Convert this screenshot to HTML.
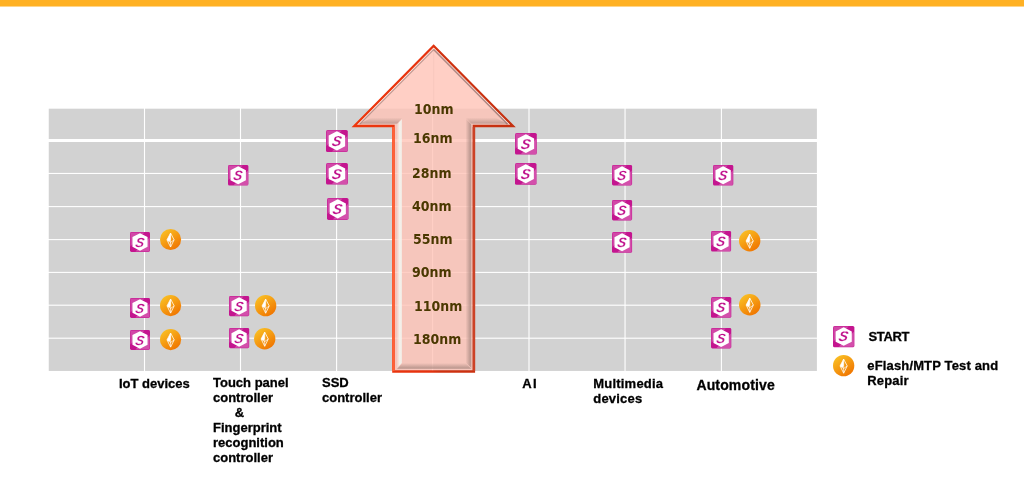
<!DOCTYPE html>
<html lang="en"><head><meta charset="utf-8"><title>Process node coverage</title>
<style>
html,body{margin:0;padding:0;background:#fff}
body{width:1024px;height:484px;position:relative;overflow:hidden;font-family:"Liberation Sans",sans-serif;font-weight:bold;color:#000}
.bar{position:absolute;left:0;top:0;width:1024px;height:7px;background:linear-gradient(#ffb124 0,#ffb124 6px,#ffd58a 6px,#ffd58a 7px)}
.gridsvg{position:absolute;left:0;top:0;display:block}
.ic{position:absolute;display:block;overflow:visible}
.t{position:absolute;font-size:13px;line-height:15px;white-space:pre;margin:0;-webkit-text-stroke:.3px #000}
.nm{position:absolute;font-family:"DejaVu Sans","Liberation Sans",sans-serif;font-size:13.3px;line-height:16px;color:#4a3800;white-space:nowrap;transform:scaleX(.945);transform-origin:0 0}
#arrow{position:absolute;left:340px;top:36px;width:190px;height:345px}
</style></head><body>
<svg width="0" height="0" style="position:absolute"><defs>
<linearGradient id="og" x1="0.2" y1="0.1" x2="0.8" y2="0.95"><stop offset="0" stop-color="#f9bc22"/><stop offset="1" stop-color="#f07400"/></linearGradient>
</defs></svg>
<div class="bar"></div>

<svg class="gridsvg" width="1024" height="484" viewBox="0 0 1024 484">
<rect x="48.75" y="108.7" width="768.15" height="262.25" fill="#d2d2d2"/>
<rect x="143.95" y="108" width="1.1" height="264" fill="#fff"/>
<rect x="239.95" y="108" width="1.1" height="264" fill="#fff"/>
<rect x="336.05" y="108" width="1.1" height="264" fill="#fff"/>
<rect x="432.05" y="108" width="1.1" height="264" fill="#fff"/>
<rect x="528.45" y="108" width="1.1" height="264" fill="#fff"/>
<rect x="624.50" y="108" width="1.1" height="264" fill="#fff"/>
<rect x="720.85" y="108" width="1.1" height="264" fill="#fff"/>
<rect x="48" y="139" width="770" height="3" fill="#fff"/>
<rect x="48" y="172.90" width="770" height="1.1" fill="#fff"/>
<rect x="48" y="206.05" width="770" height="1.1" fill="#fff"/>
<rect x="48" y="239.05" width="770" height="1.1" fill="#fff"/>
<rect x="48" y="271.85" width="770" height="1.1" fill="#fff"/>
<rect x="48" y="304.65" width="770" height="1.1" fill="#fff"/>
<rect x="48" y="337.65" width="770" height="1.1" fill="#fff"/>
</svg>


<svg class="ic" style="left:130px;top:232px;width:20px;height:20px" viewBox="0 0 22 22" preserveAspectRatio="none">
<rect x="0" y="0" width="22" height="22" rx="1.6" fill="#c4158f"/>
<path d="M0.5 0.5H16L0.5 16Z" fill="#ffffff" fill-opacity=".22"/>
<path d="M21.5 21.5H6L21.5 6Z" fill="#ffffff" fill-opacity=".25"/>
<path d="M11 1.3L19.3 5.6V16.2L11 20.5L2.7 16.2V5.6Z" fill="#fff"/>
<text x="12.9" y="16" text-anchor="middle" transform="skewX(-10)" font-family="'Liberation Sans',sans-serif" font-weight="bold" font-style="italic" font-size="14.5" fill="#c0108c" stroke="#fff" stroke-width=".15">S</text>
</svg>
<svg class="ic" style="left:130px;top:297.5px;width:20px;height:20px" viewBox="0 0 22 22" preserveAspectRatio="none">
<rect x="0" y="0" width="22" height="22" rx="1.6" fill="#c4158f"/>
<path d="M0.5 0.5H16L0.5 16Z" fill="#ffffff" fill-opacity=".22"/>
<path d="M21.5 21.5H6L21.5 6Z" fill="#ffffff" fill-opacity=".25"/>
<path d="M11 1.3L19.3 5.6V16.2L11 20.5L2.7 16.2V5.6Z" fill="#fff"/>
<text x="12.9" y="16" text-anchor="middle" transform="skewX(-10)" font-family="'Liberation Sans',sans-serif" font-weight="bold" font-style="italic" font-size="14.5" fill="#c0108c" stroke="#fff" stroke-width=".15">S</text>
</svg>
<svg class="ic" style="left:130px;top:329.7px;width:20px;height:20px" viewBox="0 0 22 22" preserveAspectRatio="none">
<rect x="0" y="0" width="22" height="22" rx="1.6" fill="#c4158f"/>
<path d="M0.5 0.5H16L0.5 16Z" fill="#ffffff" fill-opacity=".22"/>
<path d="M21.5 21.5H6L21.5 6Z" fill="#ffffff" fill-opacity=".25"/>
<path d="M11 1.3L19.3 5.6V16.2L11 20.5L2.7 16.2V5.6Z" fill="#fff"/>
<text x="12.9" y="16" text-anchor="middle" transform="skewX(-10)" font-family="'Liberation Sans',sans-serif" font-weight="bold" font-style="italic" font-size="14.5" fill="#c0108c" stroke="#fff" stroke-width=".15">S</text>
</svg>
<svg class="ic" style="left:227.7px;top:165px;width:20.4px;height:20.6px" viewBox="0 0 22 22" preserveAspectRatio="none">
<rect x="0" y="0" width="22" height="22" rx="1.6" fill="#c4158f"/>
<path d="M0.5 0.5H16L0.5 16Z" fill="#ffffff" fill-opacity=".22"/>
<path d="M21.5 21.5H6L21.5 6Z" fill="#ffffff" fill-opacity=".25"/>
<path d="M11 1.3L19.3 5.6V16.2L11 20.5L2.7 16.2V5.6Z" fill="#fff"/>
<text x="12.9" y="16" text-anchor="middle" transform="skewX(-10)" font-family="'Liberation Sans',sans-serif" font-weight="bold" font-style="italic" font-size="14.5" fill="#c0108c" stroke="#fff" stroke-width=".15">S</text>
</svg>
<svg class="ic" style="left:228.7px;top:295.7px;width:20.2px;height:20.2px" viewBox="0 0 22 22" preserveAspectRatio="none">
<rect x="0" y="0" width="22" height="22" rx="1.6" fill="#c4158f"/>
<path d="M0.5 0.5H16L0.5 16Z" fill="#ffffff" fill-opacity=".22"/>
<path d="M21.5 21.5H6L21.5 6Z" fill="#ffffff" fill-opacity=".25"/>
<path d="M11 1.3L19.3 5.6V16.2L11 20.5L2.7 16.2V5.6Z" fill="#fff"/>
<text x="12.9" y="16" text-anchor="middle" transform="skewX(-10)" font-family="'Liberation Sans',sans-serif" font-weight="bold" font-style="italic" font-size="14.5" fill="#c0108c" stroke="#fff" stroke-width=".15">S</text>
</svg>
<svg class="ic" style="left:228.7px;top:328px;width:20.2px;height:20.2px" viewBox="0 0 22 22" preserveAspectRatio="none">
<rect x="0" y="0" width="22" height="22" rx="1.6" fill="#c4158f"/>
<path d="M0.5 0.5H16L0.5 16Z" fill="#ffffff" fill-opacity=".22"/>
<path d="M21.5 21.5H6L21.5 6Z" fill="#ffffff" fill-opacity=".25"/>
<path d="M11 1.3L19.3 5.6V16.2L11 20.5L2.7 16.2V5.6Z" fill="#fff"/>
<text x="12.9" y="16" text-anchor="middle" transform="skewX(-10)" font-family="'Liberation Sans',sans-serif" font-weight="bold" font-style="italic" font-size="14.5" fill="#c0108c" stroke="#fff" stroke-width=".15">S</text>
</svg>
<svg class="ic" style="left:326px;top:130px;width:21.8px;height:22px" viewBox="0 0 22 22" preserveAspectRatio="none">
<rect x="0" y="0" width="22" height="22" rx="1.6" fill="#c4158f"/>
<path d="M0.5 0.5H16L0.5 16Z" fill="#ffffff" fill-opacity=".22"/>
<path d="M21.5 21.5H6L21.5 6Z" fill="#ffffff" fill-opacity=".25"/>
<path d="M11 1.3L19.3 5.6V16.2L11 20.5L2.7 16.2V5.6Z" fill="#fff"/>
<text x="12.9" y="16" text-anchor="middle" transform="skewX(-10)" font-family="'Liberation Sans',sans-serif" font-weight="bold" font-style="italic" font-size="14.5" fill="#c0108c" stroke="#fff" stroke-width=".15">S</text>
</svg>
<svg class="ic" style="left:326px;top:162.8px;width:21.9px;height:21.6px" viewBox="0 0 22 22" preserveAspectRatio="none">
<rect x="0" y="0" width="22" height="22" rx="1.6" fill="#c4158f"/>
<path d="M0.5 0.5H16L0.5 16Z" fill="#ffffff" fill-opacity=".22"/>
<path d="M21.5 21.5H6L21.5 6Z" fill="#ffffff" fill-opacity=".25"/>
<path d="M11 1.3L19.3 5.6V16.2L11 20.5L2.7 16.2V5.6Z" fill="#fff"/>
<text x="12.9" y="16" text-anchor="middle" transform="skewX(-10)" font-family="'Liberation Sans',sans-serif" font-weight="bold" font-style="italic" font-size="14.5" fill="#c0108c" stroke="#fff" stroke-width=".15">S</text>
</svg>
<svg class="ic" style="left:327px;top:197.6px;width:21.5px;height:21.9px" viewBox="0 0 22 22" preserveAspectRatio="none">
<rect x="0" y="0" width="22" height="22" rx="1.6" fill="#c4158f"/>
<path d="M0.5 0.5H16L0.5 16Z" fill="#ffffff" fill-opacity=".22"/>
<path d="M21.5 21.5H6L21.5 6Z" fill="#ffffff" fill-opacity=".25"/>
<path d="M11 1.3L19.3 5.6V16.2L11 20.5L2.7 16.2V5.6Z" fill="#fff"/>
<text x="12.9" y="16" text-anchor="middle" transform="skewX(-10)" font-family="'Liberation Sans',sans-serif" font-weight="bold" font-style="italic" font-size="14.5" fill="#c0108c" stroke="#fff" stroke-width=".15">S</text>
</svg>
<svg class="ic" style="left:514.5px;top:133px;width:21.8px;height:21.5px" viewBox="0 0 22 22" preserveAspectRatio="none">
<rect x="0" y="0" width="22" height="22" rx="1.6" fill="#c4158f"/>
<path d="M0.5 0.5H16L0.5 16Z" fill="#ffffff" fill-opacity=".22"/>
<path d="M21.5 21.5H6L21.5 6Z" fill="#ffffff" fill-opacity=".25"/>
<path d="M11 1.3L19.3 5.6V16.2L11 20.5L2.7 16.2V5.6Z" fill="#fff"/>
<text x="12.9" y="16" text-anchor="middle" transform="skewX(-10)" font-family="'Liberation Sans',sans-serif" font-weight="bold" font-style="italic" font-size="14.5" fill="#c0108c" stroke="#fff" stroke-width=".15">S</text>
</svg>
<svg class="ic" style="left:514.8px;top:163.4px;width:21.5px;height:21.8px" viewBox="0 0 22 22" preserveAspectRatio="none">
<rect x="0" y="0" width="22" height="22" rx="1.6" fill="#c4158f"/>
<path d="M0.5 0.5H16L0.5 16Z" fill="#ffffff" fill-opacity=".22"/>
<path d="M21.5 21.5H6L21.5 6Z" fill="#ffffff" fill-opacity=".25"/>
<path d="M11 1.3L19.3 5.6V16.2L11 20.5L2.7 16.2V5.6Z" fill="#fff"/>
<text x="12.9" y="16" text-anchor="middle" transform="skewX(-10)" font-family="'Liberation Sans',sans-serif" font-weight="bold" font-style="italic" font-size="14.5" fill="#c0108c" stroke="#fff" stroke-width=".15">S</text>
</svg>
<svg class="ic" style="left:612px;top:165px;width:20.1px;height:20.4px" viewBox="0 0 22 22" preserveAspectRatio="none">
<rect x="0" y="0" width="22" height="22" rx="1.6" fill="#c4158f"/>
<path d="M0.5 0.5H16L0.5 16Z" fill="#ffffff" fill-opacity=".22"/>
<path d="M21.5 21.5H6L21.5 6Z" fill="#ffffff" fill-opacity=".25"/>
<path d="M11 1.3L19.3 5.6V16.2L11 20.5L2.7 16.2V5.6Z" fill="#fff"/>
<text x="12.9" y="16" text-anchor="middle" transform="skewX(-10)" font-family="'Liberation Sans',sans-serif" font-weight="bold" font-style="italic" font-size="14.5" fill="#c0108c" stroke="#fff" stroke-width=".15">S</text>
</svg>
<svg class="ic" style="left:612px;top:199.6px;width:20.1px;height:20.5px" viewBox="0 0 22 22" preserveAspectRatio="none">
<rect x="0" y="0" width="22" height="22" rx="1.6" fill="#c4158f"/>
<path d="M0.5 0.5H16L0.5 16Z" fill="#ffffff" fill-opacity=".22"/>
<path d="M21.5 21.5H6L21.5 6Z" fill="#ffffff" fill-opacity=".25"/>
<path d="M11 1.3L19.3 5.6V16.2L11 20.5L2.7 16.2V5.6Z" fill="#fff"/>
<text x="12.9" y="16" text-anchor="middle" transform="skewX(-10)" font-family="'Liberation Sans',sans-serif" font-weight="bold" font-style="italic" font-size="14.5" fill="#c0108c" stroke="#fff" stroke-width=".15">S</text>
</svg>
<svg class="ic" style="left:612px;top:232.1px;width:20.1px;height:20.7px" viewBox="0 0 22 22" preserveAspectRatio="none">
<rect x="0" y="0" width="22" height="22" rx="1.6" fill="#c4158f"/>
<path d="M0.5 0.5H16L0.5 16Z" fill="#ffffff" fill-opacity=".22"/>
<path d="M21.5 21.5H6L21.5 6Z" fill="#ffffff" fill-opacity=".25"/>
<path d="M11 1.3L19.3 5.6V16.2L11 20.5L2.7 16.2V5.6Z" fill="#fff"/>
<text x="12.9" y="16" text-anchor="middle" transform="skewX(-10)" font-family="'Liberation Sans',sans-serif" font-weight="bold" font-style="italic" font-size="14.5" fill="#c0108c" stroke="#fff" stroke-width=".15">S</text>
</svg>
<svg class="ic" style="left:712.7px;top:165px;width:20.3px;height:20.6px" viewBox="0 0 22 22" preserveAspectRatio="none">
<rect x="0" y="0" width="22" height="22" rx="1.6" fill="#c4158f"/>
<path d="M0.5 0.5H16L0.5 16Z" fill="#ffffff" fill-opacity=".22"/>
<path d="M21.5 21.5H6L21.5 6Z" fill="#ffffff" fill-opacity=".25"/>
<path d="M11 1.3L19.3 5.6V16.2L11 20.5L2.7 16.2V5.6Z" fill="#fff"/>
<text x="12.9" y="16" text-anchor="middle" transform="skewX(-10)" font-family="'Liberation Sans',sans-serif" font-weight="bold" font-style="italic" font-size="14.5" fill="#c0108c" stroke="#fff" stroke-width=".15">S</text>
</svg>
<svg class="ic" style="left:710.9px;top:230.8px;width:20.1px;height:20.6px" viewBox="0 0 22 22" preserveAspectRatio="none">
<rect x="0" y="0" width="22" height="22" rx="1.6" fill="#c4158f"/>
<path d="M0.5 0.5H16L0.5 16Z" fill="#ffffff" fill-opacity=".22"/>
<path d="M21.5 21.5H6L21.5 6Z" fill="#ffffff" fill-opacity=".25"/>
<path d="M11 1.3L19.3 5.6V16.2L11 20.5L2.7 16.2V5.6Z" fill="#fff"/>
<text x="12.9" y="16" text-anchor="middle" transform="skewX(-10)" font-family="'Liberation Sans',sans-serif" font-weight="bold" font-style="italic" font-size="14.5" fill="#c0108c" stroke="#fff" stroke-width=".15">S</text>
</svg>
<svg class="ic" style="left:710.7px;top:297px;width:20.3px;height:20.7px" viewBox="0 0 22 22" preserveAspectRatio="none">
<rect x="0" y="0" width="22" height="22" rx="1.6" fill="#c4158f"/>
<path d="M0.5 0.5H16L0.5 16Z" fill="#ffffff" fill-opacity=".22"/>
<path d="M21.5 21.5H6L21.5 6Z" fill="#ffffff" fill-opacity=".25"/>
<path d="M11 1.3L19.3 5.6V16.2L11 20.5L2.7 16.2V5.6Z" fill="#fff"/>
<text x="12.9" y="16" text-anchor="middle" transform="skewX(-10)" font-family="'Liberation Sans',sans-serif" font-weight="bold" font-style="italic" font-size="14.5" fill="#c0108c" stroke="#fff" stroke-width=".15">S</text>
</svg>
<svg class="ic" style="left:710.7px;top:328px;width:20.3px;height:20.4px" viewBox="0 0 22 22" preserveAspectRatio="none">
<rect x="0" y="0" width="22" height="22" rx="1.6" fill="#c4158f"/>
<path d="M0.5 0.5H16L0.5 16Z" fill="#ffffff" fill-opacity=".22"/>
<path d="M21.5 21.5H6L21.5 6Z" fill="#ffffff" fill-opacity=".25"/>
<path d="M11 1.3L19.3 5.6V16.2L11 20.5L2.7 16.2V5.6Z" fill="#fff"/>
<text x="12.9" y="16" text-anchor="middle" transform="skewX(-10)" font-family="'Liberation Sans',sans-serif" font-weight="bold" font-style="italic" font-size="14.5" fill="#c0108c" stroke="#fff" stroke-width=".15">S</text>
</svg>
<svg class="ic" style="left:159.95px;top:228.65px;width:21.1px;height:21.1px" viewBox="0 0 22 22">
<circle cx="11" cy="11" r="11" fill="url(#og)"/>
<path d="M11 4.2L14.7 11.3L11 18.8L7.3 11.3Z" fill="none" stroke="#fff" stroke-width=".8" stroke-linejoin="round"/>
<path d="M11 4.2L7.3 11.3L9.6 13.2L11 11.2Z" fill="#fff"/>
<path d="M11 4.2V18.8M7.3 11.3L11 14L14.7 11.3" fill="none" stroke="#fff" stroke-width=".7"/>
</svg>
<svg class="ic" style="left:160.00px;top:294.60px;width:21.2px;height:21.2px" viewBox="0 0 22 22">
<circle cx="11" cy="11" r="11" fill="url(#og)"/>
<path d="M11 4.2L14.7 11.3L11 18.8L7.3 11.3Z" fill="none" stroke="#fff" stroke-width=".8" stroke-linejoin="round"/>
<path d="M11 4.2L7.3 11.3L9.6 13.2L11 11.2Z" fill="#fff"/>
<path d="M11 4.2V18.8M7.3 11.3L11 14L14.7 11.3" fill="none" stroke="#fff" stroke-width=".7"/>
</svg>
<svg class="ic" style="left:160.00px;top:328.80px;width:21.2px;height:21.2px" viewBox="0 0 22 22">
<circle cx="11" cy="11" r="11" fill="url(#og)"/>
<path d="M11 4.2L14.7 11.3L11 18.8L7.3 11.3Z" fill="none" stroke="#fff" stroke-width=".8" stroke-linejoin="round"/>
<path d="M11 4.2L7.3 11.3L9.6 13.2L11 11.2Z" fill="#fff"/>
<path d="M11 4.2V18.8M7.3 11.3L11 14L14.7 11.3" fill="none" stroke="#fff" stroke-width=".7"/>
</svg>
<svg class="ic" style="left:254.75px;top:294.75px;width:21.3px;height:21.3px" viewBox="0 0 22 22">
<circle cx="11" cy="11" r="11" fill="url(#og)"/>
<path d="M11 4.2L14.7 11.3L11 18.8L7.3 11.3Z" fill="none" stroke="#fff" stroke-width=".8" stroke-linejoin="round"/>
<path d="M11 4.2L7.3 11.3L9.6 13.2L11 11.2Z" fill="#fff"/>
<path d="M11 4.2V18.8M7.3 11.3L11 14L14.7 11.3" fill="none" stroke="#fff" stroke-width=".7"/>
</svg>
<svg class="ic" style="left:254.30px;top:328.00px;width:21.4px;height:21.4px" viewBox="0 0 22 22">
<circle cx="11" cy="11" r="11" fill="url(#og)"/>
<path d="M11 4.2L14.7 11.3L11 18.8L7.3 11.3Z" fill="none" stroke="#fff" stroke-width=".8" stroke-linejoin="round"/>
<path d="M11 4.2L7.3 11.3L9.6 13.2L11 11.2Z" fill="#fff"/>
<path d="M11 4.2V18.8M7.3 11.3L11 14L14.7 11.3" fill="none" stroke="#fff" stroke-width=".7"/>
</svg>
<svg class="ic" style="left:738.80px;top:229.50px;width:21.4px;height:21.4px" viewBox="0 0 22 22">
<circle cx="11" cy="11" r="11" fill="url(#og)"/>
<path d="M11 4.2L14.7 11.3L11 18.8L7.3 11.3Z" fill="none" stroke="#fff" stroke-width=".8" stroke-linejoin="round"/>
<path d="M11 4.2L7.3 11.3L9.6 13.2L11 11.2Z" fill="#fff"/>
<path d="M11 4.2V18.8M7.3 11.3L11 14L14.7 11.3" fill="none" stroke="#fff" stroke-width=".7"/>
</svg>
<svg class="ic" style="left:738.55px;top:294.05px;width:21.5px;height:21.5px" viewBox="0 0 22 22">
<circle cx="11" cy="11" r="11" fill="url(#og)"/>
<path d="M11 4.2L14.7 11.3L11 18.8L7.3 11.3Z" fill="none" stroke="#fff" stroke-width=".8" stroke-linejoin="round"/>
<path d="M11 4.2L7.3 11.3L9.6 13.2L11 11.2Z" fill="#fff"/>
<path d="M11 4.2V18.8M7.3 11.3L11 14L14.7 11.3" fill="none" stroke="#fff" stroke-width=".7"/>
</svg>

<svg id="arrow" viewBox="340 36 190 345">
<defs>
<linearGradient id="as" gradientUnits="userSpaceOnUse" x1="351" y1="0" x2="516" y2="0">
<stop offset="0" stop-color="#ee380e"/><stop offset=".48" stop-color="#e6320e"/><stop offset=".54" stop-color="#d03210"/><stop offset="1" stop-color="#c43010"/></linearGradient>
<linearGradient id="hl" gradientUnits="userSpaceOnUse" x1="396.5" y1="0" x2="402.5" y2="0">
<stop offset="0" stop-color="#f3f2ec" stop-opacity="0"/><stop offset=".5" stop-color="#f3f2ec" stop-opacity=".95"/><stop offset=".8" stop-color="#f3f2ec" stop-opacity=".95"/><stop offset="1" stop-color="#f3f2ec" stop-opacity="0"/></linearGradient>
<linearGradient id="sr" gradientUnits="userSpaceOnUse" x1="465.5" y1="0" x2="472" y2="0">
<stop offset="0" stop-color="#a88880" stop-opacity="0"/><stop offset=".75" stop-color="#a88880" stop-opacity=".75"/><stop offset="1" stop-color="#a88880" stop-opacity="0"/></linearGradient>
<linearGradient id="sb" gradientUnits="userSpaceOnUse" x1="0" y1="363" x2="0" y2="369.5">
<stop offset="0" stop-color="#a88880" stop-opacity="0"/><stop offset=".8" stop-color="#a88880" stop-opacity=".75"/><stop offset="1" stop-color="#a88880" stop-opacity="0"/></linearGradient>
<linearGradient id="sh" gradientUnits="userSpaceOnUse" x1="0" y1="117.5" x2="0" y2="124.5">
<stop offset="0" stop-color="#a88880" stop-opacity="0"/><stop offset=".8" stop-color="#a88880" stop-opacity=".6"/><stop offset="1" stop-color="#a88880" stop-opacity="0"/></linearGradient>
</defs>
<polygon points="433.65,47.43 510.23,124.80 472.70,124.80 472.70,370.30 394.70,370.30 394.70,124.80 357.07,124.80" fill="#ffc3b7" fill-opacity=".8"/>
<path d="M433.65,44.3L515.80,127.3H475.1V372.8H392.2V127.3H351.5ZM433.65,47.43L510.23,124.80L472.70,124.80L472.70,370.30L394.70,370.30L394.70,124.80L357.07,124.80Z" fill="url(#as)" fill-rule="evenodd"/>
<rect x="392.2" y="127" width="2.5" height="244" fill="#ff6238"/>
<rect x="472.7" y="127" width="2.4" height="244" fill="#cc4226"/>
<polygon points="396.5,125 402.5,118.5 402.5,362.5 396.5,368.5" fill="url(#hl)"/>
<polygon points="472,125 465.5,118.5 465.5,362.5 472,368.5" fill="url(#sr)"/>
<polygon points="396.5,369.5 402.5,363 465.5,363 472,369.5" fill="url(#sb)"/>
<polygon points="358,124.5 372,117.5 402.5,117.5 396.5,124.5" fill="url(#sh)"/>
<polygon points="509,124.5 495,117.5 465.5,117.5 472,124.5" fill="url(#sh)"/>
<polyline points="357.90,124.60 433.65,48.07 509.40,124.60" fill="none" stroke="#fff0ea" stroke-opacity=".7" stroke-width=".8"/>
<polyline points="359.77,124.20 433.65,49.56" fill="none" stroke="#8a6a68" stroke-opacity=".55" stroke-width="1.2"/>
<polyline points="433.65,49.56 507.53,124.20" fill="none" stroke="#7a5a58" stroke-opacity=".6" stroke-width="1.6"/>
<line x1="433.65" y1="49.56" x2="433.65" y2="110" stroke="#c8a098" stroke-opacity=".12" stroke-width="1"/>
</svg>

<div class="nm" style="left:414.0px;top:102.1px">10nm</div>
<div class="nm" style="left:413.3px;top:131.2px">16nm</div>
<div class="nm" style="left:412.2px;top:166.2px">28nm</div>
<div class="nm" style="left:411.9px;top:198.5px">40nm</div>
<div class="nm" style="left:412.9px;top:231.6px">55nm</div>
<div class="nm" style="left:412.3px;top:265.1px">90nm</div>
<div class="nm" style="left:414.1px;top:298.9px">110nm</div>
<div class="nm" style="left:413.3px;top:331.8px">180nm</div>

<div class="t" style="left:119px;top:376px">IoT devices</div>
<div class="t" style="left:213px;top:375px">Touch panel
controller
      &amp;
Fingerprint
recognition
controller</div>
<div class="t" style="left:322px;top:375.3px">SSD
controller</div>
<div class="t" style="left:522.3px;top:375.7px;letter-spacing:1.2px">AI</div>
<div class="t" style="left:593.3px;top:376.3px;letter-spacing:.2px">Multimedia
devices</div>
<div class="t" style="left:696.4px;top:377px;font-size:14px;line-height:16px;letter-spacing:.15px">Automotive</div>

<svg class="ic" style="left:833.1px;top:326px;width:21.4px;height:21.3px" viewBox="0 0 22 22" preserveAspectRatio="none">
<rect x="0" y="0" width="22" height="22" rx="1.6" fill="#c4158f"/>
<path d="M0.5 0.5H16L0.5 16Z" fill="#ffffff" fill-opacity=".22"/>
<path d="M21.5 21.5H6L21.5 6Z" fill="#ffffff" fill-opacity=".25"/>
<path d="M11 1.3L19.3 5.6V16.2L11 20.5L2.7 16.2V5.6Z" fill="#fff"/>
<text x="12.9" y="16" text-anchor="middle" transform="skewX(-10)" font-family="'Liberation Sans',sans-serif" font-weight="bold" font-style="italic" font-size="14.5" fill="#c0108c" stroke="#fff" stroke-width=".15">S</text>
</svg>
<svg class="ic" style="left:833.45px;top:355.05px;width:21.3px;height:21.3px" viewBox="0 0 22 22">
<circle cx="11" cy="11" r="11" fill="url(#og)"/>
<path d="M11 4.2L14.7 11.3L11 18.8L7.3 11.3Z" fill="none" stroke="#fff" stroke-width=".8" stroke-linejoin="round"/>
<path d="M11 4.2L7.3 11.3L9.6 13.2L11 11.2Z" fill="#fff"/>
<path d="M11 4.2V18.8M7.3 11.3L11 14L14.7 11.3" fill="none" stroke="#fff" stroke-width=".7"/>
</svg>

<div class="t" style="left:868.4px;top:329px;letter-spacing:-.3px">START</div>
<div class="t" style="left:867.3px;top:358px;letter-spacing:.15px">eFlash/MTP Test and
Repair</div>
</body></html>
